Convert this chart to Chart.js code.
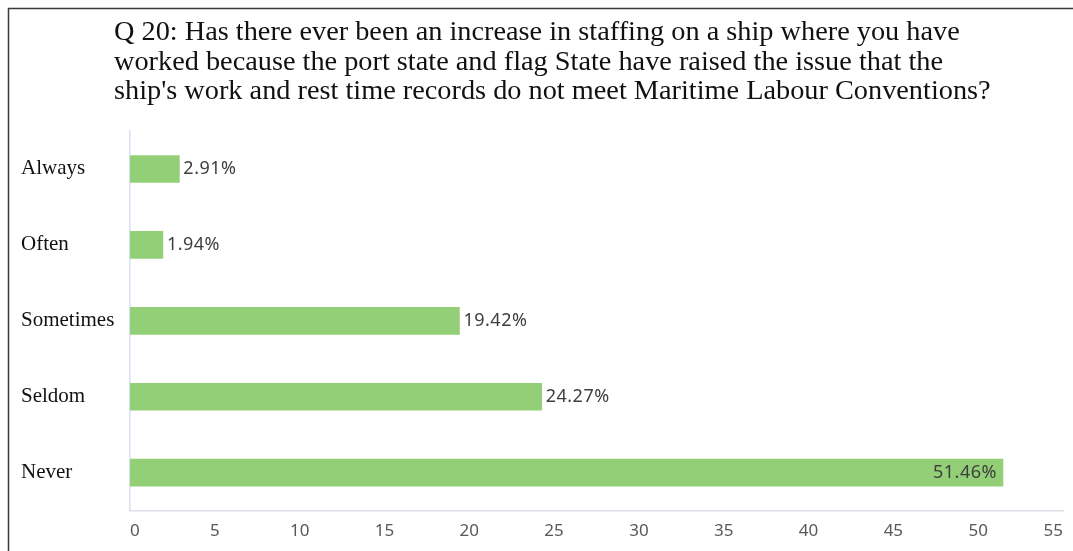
<!DOCTYPE html>
<html>
<head>
<meta charset="utf-8">
<script src="https://cdn.jsdelivr.net/npm/chart.js@4.4.1/dist/chart.umd.min.js"></script>
<style>
html,body{margin:0;padding:0;background:#fff;overflow:hidden;}
#wrap{position:relative;width:1073px;height:551px;}
</style>
</head>
<body>
<div id="wrap"><canvas id="c" width="1073" height="551"></canvas></div>
<script>
const titleLines = [
  "Q 20: Has there ever been an increase in staffing on a ship where you have",
  "worked because the port state and flag State have raised the issue that the",
  "ship's work and rest time records do not meet Maritime Labour Conventions?"
];
const categories = ["Always", "Often", "Sometimes", "Seldom", "Never"];
const percentages = [2.91, 1.94, 19.42, 24.27, 51.46];
const xTicks = [0, 5, 10, 15, 20, 25, 30, 35, 40, 45, 50, 55];

const frameAndTitle = {
  id: 'frameAndTitle',
  beforeDraw(chart) {
    const ctx = chart.ctx;
    ctx.save();
    ctx.fillStyle = '#fff';
    ctx.fillRect(0, 0, chart.width, chart.height);
    ctx.strokeStyle = '#3a3a3a';
    ctx.lineWidth = 1.5;
    ctx.beginPath();
    ctx.moveTo(8.5, chart.height + 5);
    ctx.lineTo(8.5, 8.5);
    ctx.lineTo(chart.width + 5, 8.5);
    ctx.stroke();
    ctx.restore();
  },
  afterDraw(chart) {
    const ctx = chart.ctx;
    ctx.save();
    ctx.fillStyle = '#111';
    ctx.font = '28.3px "Liberation Serif", "Times New Roman", serif';
    ctx.textBaseline = 'alphabetic';
    ctx.textAlign = 'left';
    titleLines.forEach((t, i) => ctx.fillText(t, 114, 40 + i * 29.5));
    ctx.restore();
  }
};

const barLabels = {
  id: 'barLabels',
  afterDatasetsDraw(chart) {
    const ctx = chart.ctx;
    const meta = chart.getDatasetMeta(0);
    ctx.save();
    ctx.font = '18px "Noto Sans", "Open Sans", sans-serif';
    try { ctx.letterSpacing = '0.5px'; } catch (e) {}
    ctx.fillStyle = '#3f3f3f';
    ctx.textBaseline = 'middle';
    meta.data.forEach((bar, i) => {
      const v = percentages[i];
      const txt = v.toFixed(2) + '%';
      const w = ctx.measureText(txt).width;
      if (bar.x + 6 + w > chart.chartArea.right - 50) {
        ctx.textAlign = 'right';
        ctx.fillText(txt, bar.x - 6, bar.y);
      } else {
        ctx.textAlign = 'left';
        ctx.fillText(txt, bar.x + 4, bar.y);
      }
    });
    ctx.restore();
  }
};

new Chart(document.getElementById('c'), {
  type: 'bar',
  data: {
    labels: categories,
    datasets: [{
      data: percentages,
      backgroundColor: '#92cf76',
      borderWidth: 0,
      barThickness: 27
    }]
  },
  options: {
    indexAxis: 'y',
    responsive: false,
    animation: false,
    devicePixelRatio: 1,
    layout: { padding: { top: 131, left: 21, right: 5, bottom: 0 } },
    plugins: {
      legend: { display: false },
      title: { display: false },
      tooltip: { enabled: false }
    },
    scales: {
      x: {
        min: 0,
        max: 55,
        afterBuildTicks(scale) { scale.ticks = xTicks.map(v => ({ value: v })); },
        grid: { display: false, drawTicks: false },
        border: { display: true, color: '#dcdfeb', width: 1.5 },
        ticks: {
          align: 'inner',
          padding: 10,
          color: '#595959',
          font: { family: '"Noto Sans", "Open Sans", sans-serif', size: 17 }
        }
      },
      y: {
        afterFit(scale) { scale.width = 109; },
        grid: { display: false, drawTicks: false },
        border: { display: true, color: '#d6e0ef', width: 1.5 },
        ticks: {
          crossAlign: 'far',
          padding: 0,
          color: '#111',
          font: { family: '"Liberation Serif", "Times New Roman", serif', size: 21 }
        }
      }
    }
  },
  plugins: [frameAndTitle, barLabels]
});
</script>
</body>
</html>
